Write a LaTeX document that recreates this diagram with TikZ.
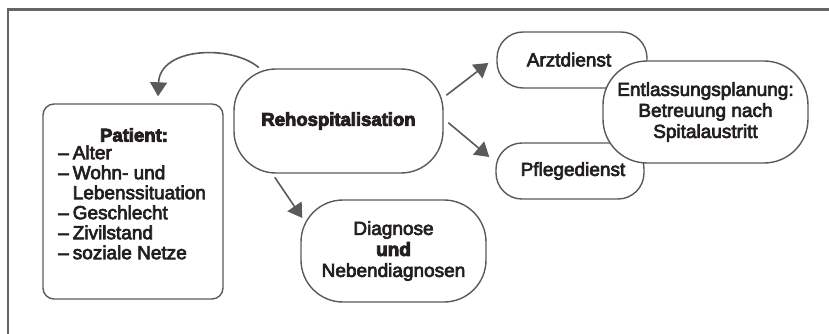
\documentclass[tikz,border=0pt]{standalone}
\usepackage{fontspec}
\setmainfont{Liberation Sans}[FakeBold=3.5]
\newfontfamily\heavy{Liberation Sans Bold}[FakeBold=4.5]
\usetikzlibrary{arrows.meta,calc}
\definecolor{ink}{HTML}{231F20}
\definecolor{line}{HTML}{5A5A5A}
\definecolor{framegray}{HTML}{666666}
\tikzset{
  box/.style={draw=line, line width=1.4pt, fill=white, text=ink, align=center,
    inner sep=0pt, font=\fontsize{19}{21}\selectfont},
  arr/.style={draw=line, line width=1.6pt,
    -{Triangle[length=14pt,width=17pt]}, line cap=round},
}
\begin{document}
\begin{tikzpicture}[x=1pt,y=-1pt]
\useasboundingbox (0,0) rectangle (829,334);
% open frame: top and left edges
\draw[framegray, line width=2.5pt] (8,334) -- (8,9.5) -- (829,9.5);

% patient box with list
\node[box, rounded corners=11pt, minimum width=180pt, minimum height=195pt] (pat) at (133,201.5) {};
\node[text=ink, font=\heavy\fontsize{18.5}{20}\selectfont] (pattitle) at (134,135) {Patient:};
\node[text=ink, anchor=north west, inner sep=0pt, font=\fontsize{19}{20}\selectfont] (patlist) at (58,145)
  {\begin{tabular}{@{}l@{\hspace{4pt}}l@{}}
   – & Alter\\
   – & Wohn- und\\
     & Lebenssituation\\
   – & Geschlecht\\
   – & Zivilstand\\
   – & soziale Netze
   \end{tabular}};

% central and outcome nodes
\node[box, rounded corners=42pt, minimum width=209pt, minimum height=104pt] (reh) at (338.5,121)
  {\heavy\fontsize{18.5}{21}\selectfont Rehospitalisation};
\node[box, rounded corners=42pt, minimum width=185pt, minimum height=102pt] (diag) at (393.5,251)
  {Diagnose\\{\heavy und}\\Nebendiagnosen};
\node[box, rounded corners=26pt, minimum width=150pt, minimum height=56pt] (arzt) at (572,60)
  {\raisebox{1pt}{Arztdienst}\hspace*{6pt}};
\node[box, rounded corners=26pt, minimum width=148pt, minimum height=56pt] (pfleg) at (570,171)
  {\hspace*{6pt}Pflegedienst};
\node[box, rounded corners=44pt, minimum width=205pt, minimum height=102pt] (entl) at (705.5,112)
  {Entlassungsplanung:\\Betreuung nach\\Spitalaustritt};

% connectors
\draw[arr] ($(reh.north)+(-80,-1)$) .. controls +(-28,-23) and +(2,-49) .. ($(pat.north)+(25,-7)$);
\draw[arr] ($(reh.east)+(3,-26)$) -- ($(arzt.west)+(-8,3)$);
\draw[arr] ($(reh.east)+(5,2)$) -- ($(pfleg.west)+(-6,-14)$);
\draw[arr] ($(reh.south)+(-63.5,4)$) -- ($(diag.west)+(2,-33)$);
\end{tikzpicture}
\end{document}
